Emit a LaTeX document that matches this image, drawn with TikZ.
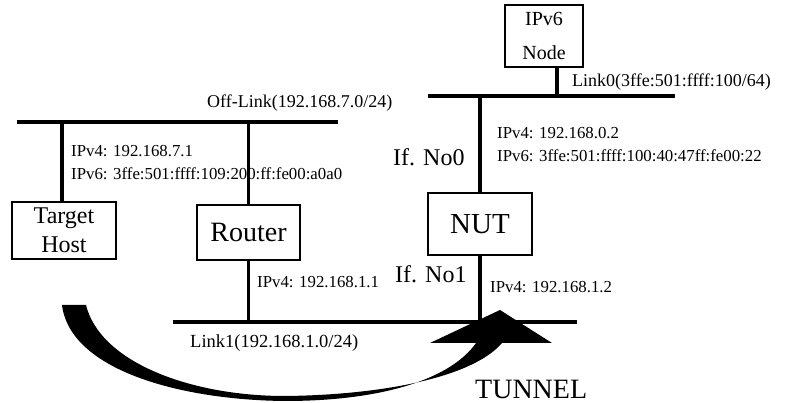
\documentclass[tikz,border=0pt]{standalone}
\usepackage{fontspec}
\setmainfont{Liberation Serif}
\usetikzlibrary{positioning,calc}
\tikzset{
  box/.style={draw,line width=1.1pt,inner sep=0pt,align=center,fill=white},
  bus/.style={line width=4pt},
  drop/.style={line width=3.2pt},
  lab/.style={anchor=west,inner sep=0pt,align=left,font=\fontsize{16.8}{23}\selectfont},
  lnk/.style={anchor=west,inner sep=0pt,font=\fontsize{18}{20}\selectfont},
  ifn/.style={anchor=west,inner sep=0pt,font=\fontsize{24}{26}\selectfont},
}
\begin{document}
\begin{tikzpicture}[x=1pt,y=-1pt]
\useasboundingbox (0,0) rectangle (798,403);
% links
\coordinate (off-l) at (17,122);  \coordinate (off-r) at (338,122);
\coordinate (l0-l) at (428,96);   \coordinate (l0-r) at (675,96);
\coordinate (l1-l) at (173,322);  \coordinate (l1-r) at (577,322);
\draw[bus] (off-l) -- (off-r);
\draw[bus] (l0-l) -- (l0-r);
\draw[bus] (l1-l) -- (l1-r);
% nodes
\node[box,minimum width=104pt,minimum height=57pt,font=\fontsize{24}{29}\selectfont] (host) at (64,230.5) {Target\\Host};
\node[box,minimum width=103pt,minimum height=55pt,font=\fontsize{28}{30}\selectfont] (rtr) at (248.5,232.5) {Router};
\node[box,minimum width=104pt,minimum height=62pt,font=\fontsize{29}{30}\selectfont] (nut) at (480,224) {NUT};
\node[box,minimum width=78pt,minimum height=62pt,font=\fontsize{20}{34}\selectfont] (v6) at (544,36) {IPv6\\Node};
% drops
\draw[drop] ([xshift=-2pt]host.north) -- ([xshift=-2pt]host.north |- off-l);
\draw[drop] (rtr.north) -- (rtr.north |- off-l);
\draw[drop] (rtr.south) -- (rtr.south |- l1-l);
\draw[drop] ([xshift=13pt]v6.south) -- ([xshift=13pt]v6.south |- l0-l);
\draw[drop] (nut.north) -- (nut.north |- l0-l);
\draw[drop] (nut.south) -- (nut.south |- l1-l);
% labels
\node[lnk] (offlbl) at (207,103) {Off-Link(192.168.7.0/24)};
\node[lnk] (l0lbl) at (572,82) {Link0(3ffe:501:ffff:100/64)};
\node[lnk,font=\fontsize{18.5}{20}\selectfont] (l1lbl) at (190,343) {Link1(192.168.1.0/24)};
\node[lab] (hostip) at (71,163) {IPv4: 192.168.7.1\\IPv6: 3ffe:501:ffff:109:200:ff:fe00:a0a0};
\node[lab] (nutip0) at (497,145) {IPv4: 192.168.0.2\\IPv6: 3ffe:501:ffff:100:40:47ff:fe00:22};
\node[lab] (rtrip1) at (257,282) {IPv4: 192.168.1.1};
\node[lab] (nutip1) at (490,287) {IPv4: 192.168.1.2};
\node[ifn] (if0) at (393,157) {If. No0};
\node[ifn] (if1) at (395,274) {If. No1};
% tunnel
\fill (62,305) .. controls (70,370) and (180,400) .. (285,401)
  .. controls (380,401) and (450,380) .. (476,343) -- (430,343) -- (500,310)
  -- (552,343) -- (502,343) .. controls (472,378) and (380,395) .. (285,396)
  .. controls (190,396) and (100,362) .. (86,305) -- cycle;
\node[anchor=west,inner sep=0pt,font=\fontsize{28}{30}\selectfont] (tun) at (475,389) {TUNNEL};
\end{tikzpicture}
\end{document}
